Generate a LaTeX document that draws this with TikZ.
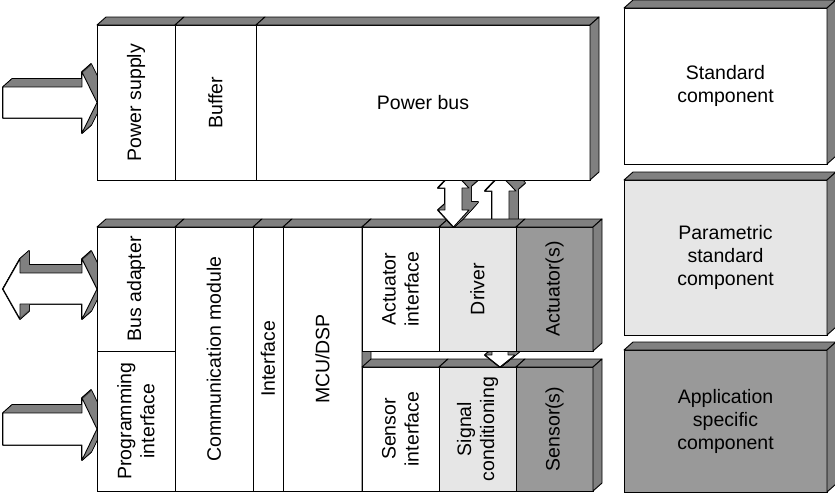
\documentclass[tikz,border=0pt]{standalone}
\usepackage{fontspec}
\setmainfont{Liberation Sans}
\usetikzlibrary{calc}
\definecolor{sidegray}{HTML}{808080}
\definecolor{paramgray}{HTML}{E6E6E6}
\definecolor{appgray}{HTML}{999999}
\tikzset{
  cell/.style={draw=black, line width=0.9pt, inner sep=0pt, outer sep=0pt},
  lbl/.style={inner sep=0pt, align=center, font=\fontsize{19.5pt}{23pt}\selectfont},
  face/.style={fill=sidegray, draw=black, line width=0.9pt, line join=round},
  arrowfront/.style={fill=white, draw=black, line width=0.9pt, line join=round},
}
\newcommand\cellnode[6]{\node[cell, fill=#6, anchor=north west, minimum width={(#4-#2)*1pt}, minimum height={(#5-#3)*1pt}] (#1) at (#2,#3) {};}
\newcommand\topface[1]{\draw[face] (#1.north west) -- ++(9,-8) -- ($(#1.north east)+(9,-8)$) -- (#1.north east) -- cycle;}
\newcommand\rightface[1]{\draw[face] (#1.north east) -- ++(9,-8) -- ($(#1.south east)+(9,-8)$) -- (#1.south east) -- cycle;}
\newcommand\blockarrow[1]{%
  \foreach \i in {0,0.5,...,9}{\draw[line width=1.8pt, line join=round, shift={(\i,-0.889*\i)}] #1 -- cycle;}
  \foreach \i in {0,0.5,...,9}{\fill[sidegray, shift={(\i,-0.889*\i)}] #1 -- cycle;}
  \draw[arrowfront] #1 -- cycle;}
\begin{document}
\begin{tikzpicture}[x=1pt,y=-1pt]
\useasboundingbox (0,0) rectangle (835,493);
% ---------- left block arrows ----------
\blockarrow{(3,87) -- (82,87) -- (82,72) -- (97,102.5) -- (82,133) -- (82,118) -- (3,118)}
\blockarrow{(3,289) -- (20,259) -- (20,273) -- (82,273) -- (82,259) -- (97,289) -- (82,319) -- (82,304) -- (20,304) -- (20,319)}
\blockarrow{(3,413) -- (82,413) -- (82,398) -- (97,429) -- (82,460) -- (82,445) -- (3,445)}
% ---------- lower left block ----------
\cellnode{ba}{97}{227}{175}{351}{white}
\topface{ba}
\cellnode{pi}{97}{351}{175}{491}{white}
\cellnode{cm}{175}{227}{253}{491}{white}
\topface{cm}
\cellnode{ifc}{253}{227}{283}{491}{white}
\topface{ifc}
\cellnode{mcu}{283}{227}{362}{491}{white}
\topface{mcu}
\rightface{mcu}
% ---------- sensor row ----------
\cellnode{si}{362}{367}{439}{491}{white}
\topface{si}
\cellnode{sc}{439}{367}{516}{491}{paramgray}
\topface{sc}
\cellnode{se}{516}{367}{593}{491}{appgray}
\topface{se}
\rightface{se}
% arrow driver -> signal conditioning
\blockarrow{(492,330) -- (508,330) -- (508,355) -- (515,355) -- (500,367) -- (485,355) -- (492,355)}
% single up arrow to power bus
\blockarrow{(500.5,175) -- (516,191) -- (509,191) -- (509,227) -- (492,227) -- (492,191) -- (485,191)}
% ---------- actuator row ----------
\cellnode{ai}{362}{227}{439}{351}{white}
\topface{ai}
\cellnode{dr}{439}{227}{516}{351}{paramgray}
\topface{dr}
\cellnode{ac}{516}{227}{593}{351}{appgray}
\topface{ac}
\rightface{ac}
% double arrow power bus <-> driver
\blockarrow{(453.5,172) -- (469,188) -- (462,188) -- (462,210) -- (469,210) -- (453.5,227) -- (438,210) -- (445,210) -- (445,188) -- (438,188)}
% ---------- top block ----------
\cellnode{ps}{97}{25}{175}{180}{white}
\topface{ps}
\cellnode{bf}{175}{25}{256}{180}{white}
\topface{bf}
\cellnode{pb}{256}{25}{590}{180}{white}
\topface{pb}
\rightface{pb}
% ---------- legend ----------
\cellnode{lg1}{624}{8}{827}{164}{white}
\topface{lg1}
\rightface{lg1}
\cellnode{lg2}{624}{180}{827}{335}{paramgray}
\topface{lg2}
\rightface{lg2}
\cellnode{lg3}{624}{350}{827}{492}{appgray}
\topface{lg3}
\rightface{lg3}
% ---------- labels ----------
\node[lbl, rotate=90] (psT) at (ps.center) {Power supply};
\node[lbl, rotate=90] (bfT) at (bf.center) {Buffer};
\node[lbl] (pbT) at (pb.center) {Power bus};
\node[lbl, rotate=90] (baT) at (ba.center) {Bus adapter};
\node[lbl, rotate=90] (piT) at (pi.center) {Programming\\interface};
\node[lbl, rotate=90] (cmT) at (cm.center) {Communication module};
\node[lbl, rotate=90] (ifT) at (ifc.center) {Interface};
\node[lbl, rotate=90] (mcuT) at (mcu.center) {MCU/DSP};
\node[lbl, rotate=90] (aiT) at (ai.center) {Actuator\\interface};
\node[lbl, rotate=90] (drT) at (dr.center) {Driver};
\node[lbl, rotate=90] (acT) at (ac.center) {Actuator(s)};
\node[lbl, rotate=90] (siT) at (si.center) {Sensor\\interface};
\node[lbl, rotate=90] (scT) at (sc.center) {Signal\\conditioning};
\node[lbl, rotate=90] (seT) at (se.center) {Sensor(s)};
\node[lbl] (lg1T) at (lg1.center) {Standard\\component};
\node[lbl] (lg2T) at (lg2.center) {Parametric\\standard\\component};
\node[lbl] (lg3T) at (lg3.center) {Application\\specific\\component};
\end{tikzpicture}
\end{document}
